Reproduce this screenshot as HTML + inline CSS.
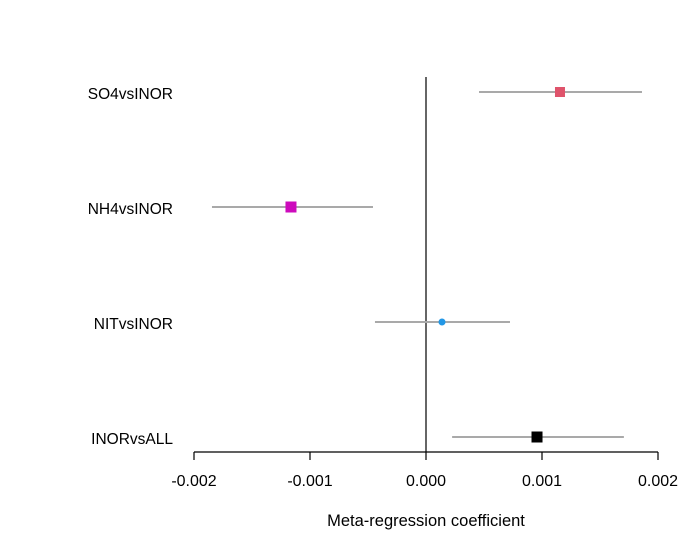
<!DOCTYPE html>
<html><head><meta charset="utf-8"><style>
html,body{margin:0;padding:0;background:#fff;}
svg{display:block;font-family:"Liberation Sans",Arial,sans-serif;}
</style></head><body>
<svg id="chart" width="699" height="549" viewBox="0 0 699 549"></svg>
<script>
const categories = ["SO4vsINOR","NH4vsINOR","NITvsINOR","INORvsALL"];
const estimates = [0.001155, -0.001164, 0.000138, 0.000957];
const lowerCI = [0.000457, -0.001845, -0.000440, 0.000225];
const upperCI = [0.001862, -0.000457, 0.000724, 0.001706];
const tickValues = [-0.002, -0.001, 0, 0.001, 0.002];
const tickLabels = ["-0.002","-0.001","0.000","0.001","0.002"];
const colors = ["#DF536B","#CD0BBC","#2297E6","#000000"];
const markerSizes = [10,11,7,11];
const markerShapes = ["square","square","circle","square"];

const NS="http://www.w3.org/2000/svg";
const svg=document.getElementById('chart');
const x0=194,x1=658,xmin=-0.002,xmax=0.002;
function xs(v){return x0+(v-xmin)/(xmax-xmin)*(x1-x0);}
function ys(i){return 92+i*115;}
function mk(t,a,p){const e=document.createElementNS(NS,t);for(const k in a)e.setAttribute(k,a[k]);(p||svg).appendChild(e);return e;}

const zl=mk('line',{x1:xs(0),x2:xs(0),y1:77,y2:452,stroke:'#000','stroke-width':1.2});



const ax=mk('line',{x1:x0,x2:x1,y1:452,y2:452,stroke:'#000','stroke-width':1.2});


tickValues.forEach((v,i)=>{
  const t=mk('line',{x1:xs(v),x2:xs(v),y1:452,y2:460,stroke:'#000','stroke-width':1.2});
  
  
  const l=mk('text',{x:xs(v),y:486,'text-anchor':'middle','font-size':16,fill:'#000'});
  
  
  l.textContent=tickLabels[i];
});
const tt=mk('text',{x:426,y:526,'text-anchor':'middle','font-size':16.5,fill:'#000'});


tt.textContent='Meta-regression coefficient';

categories.forEach((c,i)=>{
  const y=ys(i);
  const lab=mk('text',{x:173,y:y+7,'text-anchor':'end','font-size':15.5,fill:'#000'});
  
  
  lab.textContent=c;
  const ci=mk('line',{x1:xs(lowerCI[i]),x2:xs(upperCI[i]),y1:y,y2:y,stroke:'#A9A9A9','stroke-width':2});
  
  
  const s=markerSizes[i];let m;
  if(markerShapes[i]==='circle'){m=mk('circle',{cx:xs(estimates[i]),cy:y,r:s/2,fill:colors[i]});}
  else{m=mk('rect',{x:xs(estimates[i])-s/2,y:y-s/2,width:s,height:s,fill:colors[i]});}
  
  
});
</script>
</body></html>
